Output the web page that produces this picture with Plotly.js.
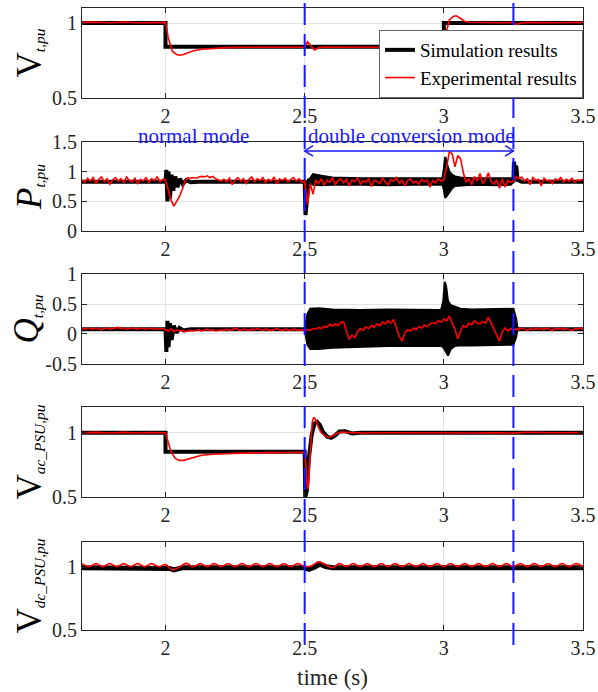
<!DOCTYPE html>
<html><head><meta charset="utf-8">
<script src="https://cdn.plot.ly/plotly-3.0.1.min.js"></script>
<style>html,body{margin:0;padding:0;background:#fff}#chart{width:598px;height:692px}</style>
</head><body><div id="chart"></div>
<script>
// ---------- tick labels ----------
var xTickVals = [2, 2.5, 3, 3.5];
var xTickText = ["2", "2.5", "3", "3.5"];
var vTickVals = [0.5, 1];
var vTickText = ["0.5", "1"];
var pTickVals = [0, 0.5, 1, 1.5];
var pTickText = ["0", "0.5", "1", "1.5"];
var qTickVals = [-0.5, 0, 0.5, 1];
var qTickText = ["-0.5", "0", "0.5", "1"];

// ---------- Vt ----------
var vtSimT = [1.7, 2.0, 2.0, 3.0, 3.0, 3.5];
var vtSimV = [1.0, 1.0, 0.842, 0.842, 1.0, 1.0];
var vtExpT = [1.7,1.75,1.8,1.85,1.9,1.95,2.0,2.01,2.025,2.04,2.05,2.065,2.08,2.1,2.13,2.17,2.22,2.3,2.4,2.5,2.51,2.52,2.535,2.55,2.57,2.6,2.7,2.8,2.9,2.99,3.0,3.01,3.02,3.035,3.045,3.06,3.075,3.09,3.12,3.15,3.2,3.25,3.26,3.28,3.3,3.4,3.5];
var vtExpV = [1.004,1.006,1.002,1.006,1.002,1.005,1.004,0.90,0.81,0.79,0.785,0.79,0.80,0.815,0.825,0.832,0.836,0.838,0.84,0.838,0.875,0.85,0.82,0.835,0.84,0.838,0.84,0.838,0.84,0.84,0.84,0.95,1.02,1.045,1.048,1.03,1.01,1.005,1.003,1.005,1.002,1.003,0.99,1.0,1.004,1.002,1.004];

// ---------- Pt ----------
var pSimT = [1.7,2.0,2.003,2.007,2.011,2.016,2.022,2.028,2.035,2.043,2.052,2.062,2.075,2.09,2.12,2.5,2.503,2.508,2.515,3.25,3.252,3.256,3.26,3.265,3.28,3.5];
var pSimV = [0.83,0.83,1.03,0.5,1.0,0.55,0.95,0.68,0.92,0.74,0.88,0.79,0.86,0.82,0.83,0.83,0.27,0.5,0.85,0.85,1.17,0.95,1.1,0.86,0.83,0.83];
var pBandT  = [2.515,2.53,2.56,2.6,2.7,2.8,2.9,2.995,3.0,3.005,3.012,3.02,3.03,3.04,3.06,3.1,3.2,3.24,3.25];
var pBandHi = [0.86,0.96,0.93,0.90,0.89,0.89,0.89,0.89,1.05,1.25,1.12,1.0,0.95,0.92,0.9,0.89,0.89,0.89,0.86];
var pBandLo = [0.82,0.78,0.77,0.78,0.78,0.77,0.78,0.78,0.7,0.56,0.6,0.65,0.72,0.76,0.77,0.78,0.77,0.78,0.82];
var pExpStart = 1.7, pExpStep = 0.01;
var pExpV = [
0.86,0.82,0.89,0.84,0.90,0.80,0.87,0.91,0.83,0.88,
0.79,0.86,0.90,0.84,0.88,0.81,0.91,0.85,0.83,0.89,
0.80,0.87,0.84,0.90,0.82,0.88,0.85,0.91,0.83,0.87,
0.86,0.70,0.52,0.42,0.50,0.58,0.70,0.84,0.90,0.89,
0.90,0.89,0.91,0.92,0.91,0.93,0.90,0.92,0.88,0.86,
0.84,0.87,0.83,0.89,0.78,0.86,0.90,0.84,0.88,0.80,
0.87,0.91,0.83,0.88,0.85,0.90,0.82,0.87,0.84,0.91,
0.80,0.88,0.85,0.89,0.83,0.87,0.90,0.84,0.88,0.82,
0.84,0.45,0.80,0.62,0.86,0.80,0.88,0.77,0.86,0.82,
0.90,0.78,0.85,0.88,0.81,0.87,0.76,0.86,0.83,0.89,
0.79,0.85,0.82,0.88,0.75,0.86,0.84,0.80,0.89,0.82,
0.78,0.87,0.84,0.90,0.80,0.86,0.76,0.85,0.88,0.81,
0.84,0.79,0.87,0.83,0.86,0.74,0.85,0.81,0.88,0.84,
0.86,1.08,1.34,1.30,1.08,1.27,1.22,0.98,0.82,0.88,
0.78,0.92,0.84,0.97,0.80,0.87,0.98,0.83,0.79,0.86,
0.72,0.88,0.74,0.85,0.82,0.84,0.92,0.88,0.91,0.84,
0.88,0.78,0.90,0.85,0.87,0.76,0.89,0.84,0.86,0.80,
0.88,0.85,0.90,0.83,0.87,0.84,0.89,0.82,0.86,0.85,
0.87];

// ---------- Qt ----------
var qSimT = [1.7,2.0,2.003,2.007,2.011,2.016,2.022,2.03,2.04,2.05,2.065,2.09,2.5,3.265,3.5];
var qSimV = [0.08,0.08,-0.3,0.22,-0.22,0.18,-0.1,0.14,0.02,0.1,0.06,0.08,0.08,0.08,0.08];
var qBandT  = [2.5,2.505,2.51,2.52,2.55,2.6,2.7,2.8,2.9,2.99,2.998,3.003,3.008,3.015,3.025,3.04,3.06,3.1,3.2,3.24,3.25,3.26,3.265];
var qBandHi = [0.08,0.2,0.33,0.42,0.43,0.41,0.40,0.41,0.40,0.40,0.55,0.87,0.80,0.55,0.48,0.45,0.42,0.41,0.42,0.43,0.42,0.25,0.08];
var qBandLo = [0.08,-0.05,-0.18,-0.25,-0.25,-0.23,-0.21,-0.20,-0.20,-0.20,-0.22,-0.25,-0.30,-0.36,-0.25,-0.20,-0.19,-0.19,-0.18,-0.18,-0.18,-0.05,0.08];
var qExpStart = 1.7, qExpStep = 0.01;
var qExpV = [
0.09,0.08,0.10,0.09,0.08,0.10,0.09,0.07,0.09,0.10,
0.08,0.09,0.10,0.11,0.09,0.10,0.08,0.09,0.10,0.09,
0.08,0.10,0.09,0.08,0.09,0.10,0.08,0.09,0.08,0.09,
0.07,0.05,0.09,0.04,0.07,0.05,0.06,0.04,0.05,0.06,
0.05,0.06,0.07,0.05,0.06,0.08,0.06,0.07,0.05,0.06,
0.07,0.06,0.08,0.06,0.07,0.10,0.07,0.06,0.08,0.07,
0.06,0.08,0.07,0.09,0.07,0.06,0.08,0.07,0.06,0.07,
0.09,0.07,0.06,0.08,0.07,0.06,0.08,0.07,0.06,0.07,
0.05,0.07,0.06,0.09,0.08,0.11,0.09,0.13,0.11,0.16,
0.13,0.17,0.14,0.19,0.20,0.05,-0.09,-0.02,-0.06,0.04,
0.09,0.06,0.12,0.09,0.14,0.11,0.17,0.14,0.20,0.17,
0.22,0.18,0.24,0.10,-0.04,-0.12,0.02,0.07,0.05,0.10,
0.07,0.12,0.10,0.15,0.12,0.17,0.19,0.17,0.22,0.20,
0.25,0.22,0.30,0.18,0.08,-0.08,0.05,0.14,0.11,0.18,
0.15,0.22,0.18,0.17,0.21,0.18,0.28,0.18,0.07,-0.02,
-0.12,0.04,0.10,0.05,0.09,0.06,0.09,0.07,0.10,0.08,
0.06,0.09,0.07,0.10,0.08,0.09,0.07,0.10,0.08,0.06,
0.09,0.08,0.10,0.07,0.09,0.08,0.06,0.09,0.08,0.10,
0.08];

// ---------- Vac_PSU ----------
var vacSimT = [1.7,2.0,2.0,2.5,2.502,2.508,2.515,2.525,2.535,2.545,2.555,2.565,2.58,2.595,2.61,2.625,2.645,2.67,2.7,3.5];
var vacSimV = [1.0,1.0,0.852,0.852,0.5,0.55,0.8,0.98,1.07,1.085,1.06,1.01,0.97,0.96,0.98,1.01,1.012,0.995,1.0,1.0];
var vacExpT = [1.7,1.75,1.8,1.85,1.9,1.95,2.0,2.01,2.02,2.035,2.05,2.065,2.08,2.1,2.13,2.17,2.22,2.3,2.4,2.5,2.503,2.508,2.512,2.52,2.527,2.533,2.54,2.55,2.56,2.575,2.59,2.6,2.615,2.63,2.65,2.7,2.8,2.9,3.0,3.1,3.2,3.25,3.3,3.4,3.5];
var vacExpV = [1.0,1.003,0.998,1.003,0.998,1.002,1.0,0.92,0.85,0.80,0.785,0.785,0.795,0.81,0.825,0.833,0.838,0.843,0.845,0.848,0.78,0.6,0.56,0.85,1.08,1.12,1.1,1.04,1.0,0.972,0.965,0.975,0.995,1.005,1.003,0.998,1.0,0.998,1.0,0.998,1.0,0.997,1.004,1.0,1.002];

// ---------- Vdc_PSU ----------
var vdcSimT = [1.7,2.0,2.015,2.03,2.045,2.06,2.5,2.515,2.535,2.555,2.575,2.6,3.5];
var vdcSimV = [0.995,0.995,0.99,0.978,0.99,0.995,0.995,0.982,1.0,1.025,1.005,0.995,0.995];
var vdcExpStart = 1.7, vdcExpStep = 0.025;
var vdcExpV = [
1.028,1.003,1.028,1.003,1.028,1.003,1.028,1.003,1.028,1.003,1.028,1.003,
1.02,0.978,1.0,1.03,
1.003,1.028,1.003,1.028,1.003,1.028,1.003,1.028,1.003,1.028,1.003,1.028,1.003,1.028,1.003,1.028,
1.004,1.01,1.042,1.02,0.995,
1.028,1.003,1.028,1.003,1.028,1.003,1.028,1.003,1.028,1.003,1.028,1.003,
1.028,1.003,1.028,1.003,1.028,1.003,1.028,1.003,1.028,1.003,1.028,1.003,
1.028,1.003,1.028,1.003,1.028,1.003,1.028,1.003,1.028,1.003,1.028,1.003];

// ---------- event markers ----------
var eventTimes = [2.5, 3.25];
var modeLabels = ["normal mode", "double conversion mode"];
var modeLabelT = [2.099, 2.881];

// ---------- styling ----------
var FONT = "'Liberation Serif', 'Times New Roman', Times, serif";
var BLACK = "#000000", RED = "#ff0000", BLUE = "rgb(25,25,255)";
var AXC = "#262626", GRID = "#e3e3e3";

function simLine(x, y, xa, ya, name, show) {
  return {x: x, y: y, xaxis: xa, yaxis: ya, type: "scatter", mode: "lines", name: name,
    showlegend: !!show, legendgroup: "sim", line: {color: BLACK, width: 4}, hoverinfo: "skip"};
}
function expLine(x, y, xa, ya, name, show, shape) {
  return {x: x, y: y, xaxis: xa, yaxis: ya, type: "scatter", mode: "lines", name: name,
    showlegend: !!show, legendgroup: "exp", line: {color: RED, width: 1.6, shape: shape || "linear"}, hoverinfo: "skip"};
}
function expStep(x0, dx, y, xa, ya, shape) {
  return {x0: x0, dx: dx, y: y, xaxis: xa, yaxis: ya, type: "scatter", mode: "lines",
    showlegend: false, line: {color: RED, width: 1.6, shape: shape || "linear"}, hoverinfo: "skip"};
}
function band(x, lo, hi, xa, ya) {
  return [
    {x: x, y: lo, xaxis: xa, yaxis: ya, type: "scatter", mode: "lines", showlegend: false,
     line: {color: BLACK, width: 2}, hoverinfo: "skip"},
    {x: x, y: hi, xaxis: xa, yaxis: ya, type: "scatter", mode: "lines", showlegend: false,
     fill: "tonexty", fillcolor: BLACK, line: {color: BLACK, width: 2}, hoverinfo: "skip"}
  ];
}

var data = [];
data.push(simLine(vtSimT, vtSimV, "x", "y", "Simulation results", true));
data.push(expLine(vtExpT, vtExpV, "x", "y", "Experimental results", true));
data.push(simLine(pSimT, pSimV, "x2", "y2"));
data = data.concat(band(pBandT, pBandLo, pBandHi, "x2", "y2"));
data.push(expStep(pExpStart, pExpStep, pExpV, "x2", "y2"));
data.push(simLine(qSimT, qSimV, "x3", "y3"));
data = data.concat(band(qBandT, qBandLo, qBandHi, "x3", "y3"));
data.push(expStep(qExpStart, qExpStep, qExpV, "x3", "y3"));
data.push(simLine(vacSimT, vacSimV, "x4", "y4"));
data.push(expLine(vacExpT, vacExpV, "x4", "y4"));
var vdcSim = simLine(vdcSimT, vdcSimV, "x5", "y5"); vdcSim.line.width = 5;
data.push(vdcSim);
data.push(expStep(vdcExpStart, vdcExpStep, vdcExpV, "x5", "y5", "spline"));

var TICKF = {family: FONT, size: 20, color: AXC};
function xAxis(anchor, extra) {
  var a = {anchor: anchor, range: [1.7, 3.5], tickmode: "array", tickvals: xTickVals, ticktext: xTickText,
    showline: true, mirror: "ticks", linecolor: AXC, linewidth: 1, ticks: "inside", ticklen: 5,
    tickcolor: AXC, showgrid: true, gridcolor: GRID, zeroline: false,
    tickfont: TICKF, fixedrange: true};
  for (var k in extra) a[k] = extra[k];
  return a;
}
function yAxis(anchor, domain, range, tv, tt, title, standoff) {
  return {anchor: anchor, domain: domain, range: range, tickmode: "array", tickvals: tv, ticktext: tt,
    showline: true, mirror: "ticks", linecolor: AXC, linewidth: 1, ticks: "inside", ticklen: 5,
    tickcolor: AXC, showgrid: true, gridcolor: GRID, zeroline: false,
    tickfont: TICKF, fixedrange: true,
    title: {text: title, font: {family: FONT, size: 22, color: "#000"}, standoff: standoff}};
}
var BIG = '<span style="font-size:35px">';

var shapes = [];
eventTimes.forEach(function (t) {
  shapes.push({type: "line", xref: "x", yref: "paper", x0: t, x1: t, y0: -0.024, y1: 1.02,
    line: {color: BLUE, width: 2, dash: "22px,9px"}, layer: "above"});
});
// double arrow in P subplot
var arrowY = 1.35, headDx = 0.03, headDy = 0.09;
shapes.push({type: "line", xref: "x2", yref: "y2", x0: eventTimes[0], x1: eventTimes[1], y0: arrowY, y1: arrowY,
  line: {color: BLUE, width: 1.5}, layer: "above"});
shapes.push({type: "path", xref: "x2", yref: "y2",
  path: "M" + (eventTimes[0] + headDx) + "," + (arrowY + headDy) + " L" + eventTimes[0] + "," + arrowY + " L" + (eventTimes[0] + headDx) + "," + (arrowY - headDy),
  line: {color: BLUE, width: 1.5}, layer: "above"});
shapes.push({type: "path", xref: "x2", yref: "y2",
  path: "M" + (eventTimes[1] - headDx) + "," + (arrowY + headDy) + " L" + eventTimes[1] + "," + arrowY + " L" + (eventTimes[1] - headDx) + "," + (arrowY - headDy),
  line: {color: BLUE, width: 1.5}, layer: "above"});

var annotations = modeLabels.map(function (s, i) {
  return {text: s, xref: "x2", yref: "paper", x: modeLabelT[i], y: 0.795, xanchor: "center", yanchor: "middle",
    showarrow: false, font: {family: FONT, size: 21, color: BLUE}};
});

var layout = {
  width: 598, height: 692,
  margin: {l: 82, r: 15, t: 8, b: 62},
  paper_bgcolor: "#fff", plot_bgcolor: "#fff",
  font: {family: FONT, size: 18, color: AXC},
  showlegend: true,
  legend: {x: 1, xanchor: "right", y: 0.8553, yanchor: "bottom", bgcolor: "#fff",
    bordercolor: "#666", borderwidth: 1, font: {family: FONT, size: 19, color: "#000"}, tracegroupgap: 0},
  xaxis: xAxis("y"),
  xaxis2: xAxis("y2"),
  xaxis3: xAxis("y3"),
  xaxis4: xAxis("y4"),
  xaxis5: xAxis("y5", {title: {text: "time (s)", font: {family: FONT, size: 23, color: AXC}, standoff: 10}}),
  yaxis: yAxis("x", [0.8553, 1], [0.5, 1.1], vTickVals, vTickText, BIG + "V</span><sub><i>t,pu</i></sub>", 4),
  yaxis2: yAxis("x2", [0.6415, 0.7846], [0, 1.5], pTickVals, pTickText, BIG + "<i>P</i></span><sub><i>t,pu</i></sub>", 4),
  yaxis3: yAxis("x3", [0.4277, 0.5723], [-0.5, 1], qTickVals, qTickText, BIG + "<i>Q</i></span><sub><i>t,pu</i></sub>", 0),
  yaxis4: yAxis("x4", [0.2138, 0.3585], [0.5, 1.2], vTickVals, vTickText, BIG + "V</span><sub><i>ac_PSU,pu</i></sub>", 4),
  yaxis5: yAxis("x5", [0, 0.1415], [0.5, 1.2], vTickVals, vTickText, BIG + "V</span><sub><i>dc_PSU,pu</i></sub>", 4),
  shapes: shapes,
  annotations: annotations
};

Plotly.newPlot("chart", data, layout, {staticPlot: true, displayModeBar: false});
</script></body></html>
